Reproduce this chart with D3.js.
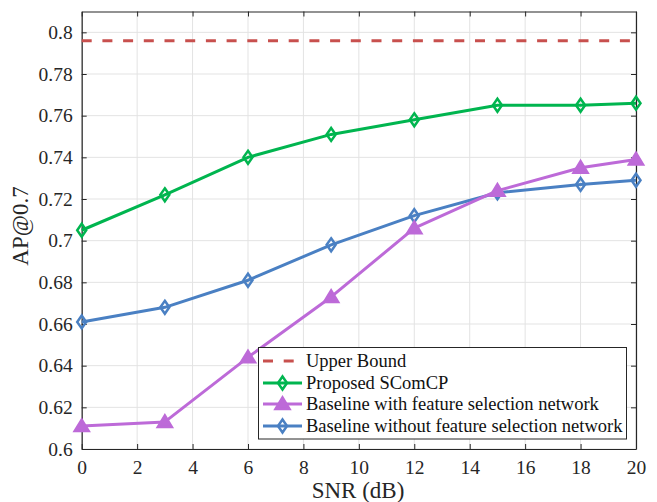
<!DOCTYPE html>
<html><head><meta charset="utf-8">
<script src="https://cdn.jsdelivr.net/npm/d3@7"></script>
<style>body{margin:0;background:#fff;} svg{display:block;} svg text{font-family:"Liberation Serif","Times New Roman",Times,"DejaVu Serif",serif !important;}</style>
</head><body>
<svg id="c" width="657" height="502"></svg>
<script>
const snr = [0, 3, 6, 9, 12, 15, 18, 20];
const upperBound = 0.796;
const proposed = [0.705, 0.722, 0.740, 0.751, 0.758, 0.765, 0.765, 0.766];
const withFS = [0.611, 0.613, 0.644, 0.673, 0.706, 0.724, 0.735, 0.739];
const withoutFS = [0.661, 0.668, 0.681, 0.698, 0.712, 0.723, 0.727, 0.729];
const xTicks = [0, 2, 4, 6, 8, 10, 12, 14, 16, 18, 20];
const yTicks = [0.6, 0.62, 0.64, 0.66, 0.68, 0.7, 0.72, 0.74, 0.76, 0.78, 0.8];
const yTickLabels = ["0.6","0.62","0.64","0.66","0.68","0.7","0.72","0.74","0.76","0.78","0.8"];
const legendLabels = ["Upper Bound","Proposed SComCP","Baseline with feature selection network","Baseline without feature selection network"];

const colors = {ub:"#c8504e", green:"#00b54f", purple:"#bd6ad8", blue:"#4a80c3"};

const svg = d3.select("#c");
const L = 81.7, R = 636, T = 11.5, B = 449;
const x = d3.scaleLinear().domain([0, 20]).range([L, R]);
const y = d3.scaleLinear().domain([0.6, 0.81]).range([B, T]);

// grid
const g = svg.append("g");
g.selectAll(".vg").data(xTicks).enter().append("line")
  .attr("x1", d => x(d)).attr("x2", d => x(d)).attr("y1", T).attr("y2", B)
  .attr("stroke", "#e3e3e3").attr("stroke-width", 1);
g.selectAll(".hg").data(yTicks).enter().append("line")
  .attr("x1", L).attr("x2", R).attr("y1", d => y(d)).attr("y2", d => y(d))
  .attr("stroke", "#e3e3e3").attr("stroke-width", 1);

// axes
const axB = d3.axisBottom(x).tickValues(xTicks).tickSizeInner(-5).tickSizeOuter(0).tickPadding(11);
const axL = d3.axisLeft(y).tickValues(yTicks).tickFormat((d,i) => yTickLabels[i]).tickSizeInner(-5).tickSizeOuter(0).tickPadding(9);
const axT = d3.axisTop(x).tickValues(xTicks).tickSizeInner(-5).tickSizeOuter(0).tickFormat("");
const axR = d3.axisRight(y).tickValues(yTicks).tickSizeInner(-5).tickSizeOuter(0).tickFormat("");

function style(sel){
  sel.attr("font-family", null);
  sel.selectAll("path").attr("stroke", "#262626").attr("stroke-width", 1.2);
  sel.selectAll("line").attr("stroke", "#262626").attr("stroke-width", 1);
  sel.selectAll("text").attr("font-size", 19.5).attr("fill", "#262626");
}
style(svg.append("g").attr("transform", `translate(0,${B})`).call(axB));
style(svg.append("g").attr("transform", `translate(${L},0)`).call(axL));
style(svg.append("g").attr("transform", `translate(0,${T})`).call(axT));
style(svg.append("g").attr("transform", `translate(${R},0)`).call(axR));

// labels
svg.append("text").attr("x", 358).attr("y", 498).attr("text-anchor", "middle")
  .attr("font-size", 23).attr("fill", "#262626").text("SNR (dB)");
svg.append("text").attr("transform", `translate(28,226) rotate(-90)`).attr("text-anchor", "middle")
  .attr("font-size", 23).attr("fill", "#262626").text("AP@0.7");

// upper bound
svg.append("line").attr("x1", x(0)).attr("x2", x(20)).attr("y1", y(upperBound)).attr("y2", y(upperBound))
  .attr("stroke", colors.ub).attr("stroke-width", 3).attr("stroke-dasharray", "10,10.7");

const line = d3.line().x((d,i) => x(snr[i])).y(d => y(d));
const diamond = "M0,-6.5L4.5,0L0,6.5L-4.5,0Z";
const triangle = "M0,-6.5L7,5L-7,5Z";

function series(vals, color, shape, filled){
  svg.append("path").datum(vals).attr("d", line).attr("fill", "none")
    .attr("stroke", color).attr("stroke-width", 3).attr("stroke-linejoin", "round");
  svg.selectAll(null).data(vals).enter().append("path")
    .attr("d", shape).attr("transform", (d,i) => `translate(${x(snr[i])},${y(d)})`)
    .attr("fill", filled ? color : "none").attr("stroke", color).attr("stroke-width", 2.5)
    .attr("stroke-linejoin", "miter");
}
series(withoutFS, colors.blue, diamond, false);
series(withFS, colors.purple, triangle, true);
series(proposed, colors.green, diamond, false);

// legend
const lg = svg.append("g");
lg.append("rect").attr("x", 258.5).attr("y", 347.5).attr("width", 368).attr("height", 91.5)
  .attr("fill", "#fff").attr("stroke", "#262626").attr("stroke-width", 1);
const rows = [361, 383, 404, 426];
const lx1 = 263, lx2 = 302, lxm = 282.5;
lg.append("line").attr("x1", lx1).attr("x2", lx2).attr("y1", rows[0]).attr("y2", rows[0])
  .attr("stroke", colors.ub).attr("stroke-width", 3).attr("stroke-dasharray", "10,10.7");
[[colors.green, diamond, false],[colors.purple, triangle, true],[colors.blue, diamond, false]].forEach((s, k) => {
  const yy = rows[k + 1];
  lg.append("line").attr("x1", lx1).attr("x2", lx2).attr("y1", yy).attr("y2", yy)
    .attr("stroke", s[0]).attr("stroke-width", 3);
  lg.append("path").attr("d", s[1]).attr("transform", `translate(${lxm},${yy})`)
    .attr("fill", s[2] ? s[0] : "none").attr("stroke", s[0]).attr("stroke-width", 2.5);
});
legendLabels.forEach((t, k) => {
  lg.append("text").attr("x", 306).attr("y", rows[k] + 6)
    .attr("font-size", 18.5).attr("fill", "#111").text(t);
});
</script>
</body></html>
